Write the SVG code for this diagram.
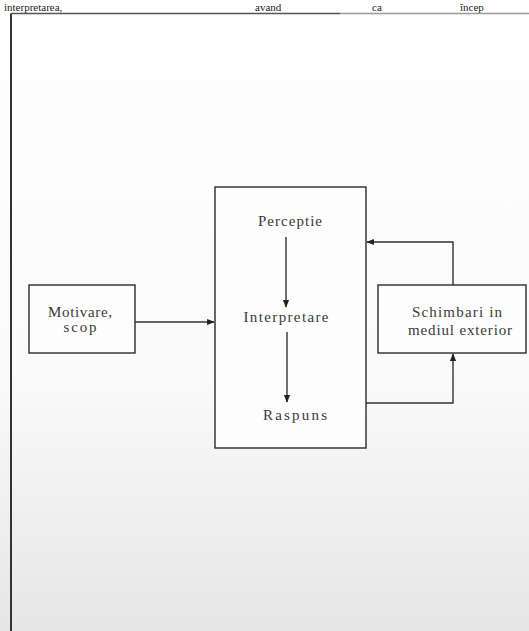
<svg xmlns="http://www.w3.org/2000/svg" width="529" height="631" viewBox="0 0 529 631">
<defs>
<style>
.box{fill:#fdfdfd;stroke:#2a2a2a;stroke-width:1.4}
.ln{fill:none;stroke:#333;stroke-width:1.4}
.t{font-family:'Liberation Serif','DejaVu Serif',serif;font-size:15px;fill:#3a3a3a;text-anchor:middle}
.top{font-family:'Liberation Serif','DejaVu Serif',serif;font-size:11px;fill:#222}
</style>
<marker id="ah" viewBox="0 0 10 10" refX="9" refY="5" markerWidth="5.5" markerHeight="5.5" orient="auto">
<path d="M0,1 L10,5 L0,9 Z" fill="#222"/>
</marker>
<linearGradient id="bg" x1="0" y1="0" x2="0" y2="1">
<stop offset="0" stop-color="#ffffff"/>
<stop offset="0.6" stop-color="#fafafa"/>
<stop offset="1" stop-color="#e6e6e6"/>
</linearGradient>
</defs>
<rect x="0" y="0" width="529" height="631" fill="url(#bg)"/>
<g id="header">
<text class="top" x="4" y="11">interpretarea,</text>
<text class="top" x="255" y="11">avand</text>
<text class="top" x="372" y="11">ca</text>
<text class="top" x="460" y="11">încep</text>
</g>
<g id="frame">
<line x1="11" y1="13.5" x2="11" y2="631" stroke="#333" stroke-width="2"/>
<line x1="11" y1="13.5" x2="340" y2="13.5" stroke="#555" stroke-width="1.6"/>
<line x1="340" y1="13.5" x2="529" y2="13.5" stroke="#999" stroke-width="1.4"/>
</g>
<g id="motivare">
<rect class="box" x="29" y="285" width="106" height="68"/>
<text class="t" x="80" y="317" textLength="64" lengthAdjust="spacing">Motivare,</text>
<text class="t" x="80" y="332" textLength="33" lengthAdjust="spacing">scop</text>
</g>
<g id="main">
<rect class="box" x="215" y="187" width="151" height="261"/>
<text class="t" x="290" y="226" textLength="64" lengthAdjust="spacing">Perceptie</text>
<text class="t" x="286" y="322" textLength="85" lengthAdjust="spacing">Interpretare</text>
<text class="t" x="295" y="420" textLength="64" lengthAdjust="spacing">Raspuns</text>
</g>
<g id="schimbari">
<rect class="box" x="378" y="285" width="148" height="68"/>
<text class="t" x="457" y="317" textLength="90" lengthAdjust="spacing">Schimbari in</text>
<text class="t" x="460" y="335" textLength="104" lengthAdjust="spacing">mediul exterior</text>
</g>
<g id="connectors">
<line class="ln" x1="135" y1="322" x2="214" y2="322" marker-end="url(#ah)"/>
<line class="ln" x1="286" y1="237" x2="286" y2="307" marker-end="url(#ah)"/>
<line class="ln" x1="287" y1="332" x2="287" y2="402" marker-end="url(#ah)"/>
<polyline class="ln" points="453,285 453,242 367,242" marker-end="url(#ah)"/>
<polyline class="ln" points="366,403 453,403 453,354" marker-end="url(#ah)"/>
</g>
</svg>
